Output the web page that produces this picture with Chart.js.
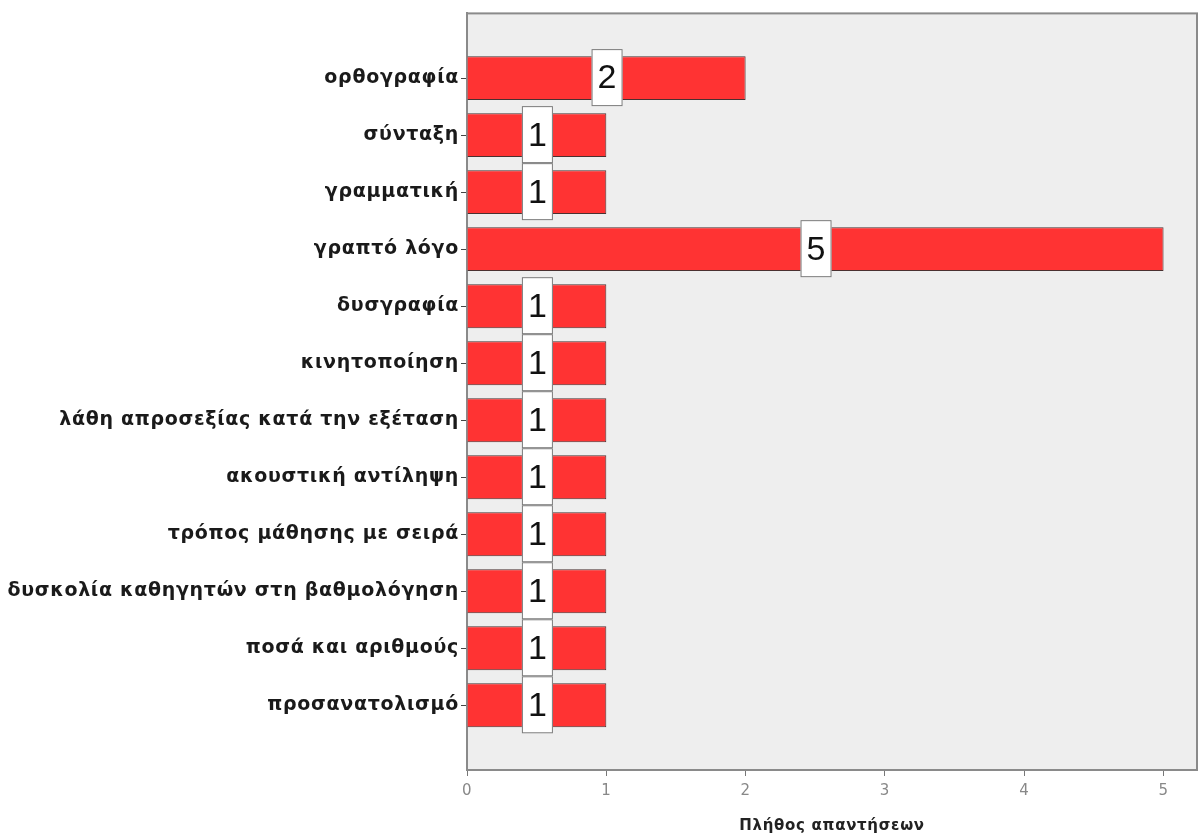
<!DOCTYPE html>
<html>
<head>
<meta charset="utf-8">
<script src="https://cdn.jsdelivr.net/npm/chart.js@4"></script>
<style>
  html, body { margin: 0; padding: 0; background: #fff; }
  #wrap { width: 1201px; height: 834px; }
</style>
</head>
<body>
<div id="wrap"><canvas id="answersChart"></canvas></div>
<script>
// categories top to bottom
let categories = [
    'ορθογραφία', 'σύνταξη', 'γραμματική', 'γραπτό λόγο', 'δυσγραφία', 'κινητοποίηση',
    'λάθη απροσεξίας κατά την εξέταση', 'ακουστική αντίληψη', 'τρόπος μάθησης με σειρά',
    'δυσκολία καθηγητών στη βαθμολόγηση', 'ποσά και αριθμούς', 'προσανατολισμό'
];
let counts = [2, 1, 1, 5, 1, 1, 1, 1, 1, 1, 1, 1];
let xTicks = [0, 1, 2, 3, 4, 5];
let xTitle = 'Πλήθος απαντήσεων';

// gray plot panel with a frame, and spaced-out lettering for the axis text
const panel = {
    id: 'panel',
    beforeDraw(chart) {
        chart.ctx.letterSpacing = '0.7px';
    },
    beforeDatasetsDraw(chart) {
        const { ctx, chartArea: a } = chart;
        ctx.save();
        ctx.fillStyle = '#eeeeee';
        ctx.fillRect(a.left, a.top, a.right - a.left, a.bottom - a.top);
        ctx.strokeStyle = '#8a8a8a';
        ctx.lineWidth = 2;
        ctx.strokeRect(a.left, a.top, a.right - a.left, a.bottom - a.top);
        ctx.restore();
    }
};

// value boxes in the middle of each bar
const valueBoxes = {
    id: 'valueBoxes',
    afterDatasetsDraw(chart) {
        const ctx = chart.ctx;
        const meta = chart.getDatasetMeta(0);
        ctx.save();
        ctx.letterSpacing = '0px';
        ctx.font = '34px "Liberation Sans", Arial, sans-serif';
        ctx.textAlign = 'center';
        ctx.textBaseline = 'middle';
        meta.data.forEach((bar, i) => {
            const cx = (bar.base + bar.x) / 2;
            const cy = bar.y;
            ctx.fillStyle = '#ffffff';
            ctx.fillRect(cx - 15, cy - 29, 31, 57);
            ctx.strokeStyle = '#7a7a7a';
            ctx.lineWidth = 1;
            ctx.strokeRect(cx - 15 + 0.5, cy - 29 + 0.5, 30, 56);
            ctx.fillStyle = '#111';
            ctx.fillText(String(counts[i]), cx + 0.5, cy + 1);
        });
        ctx.restore();
    }
};

new Chart(document.getElementById('answersChart').getContext('2d'), {
    type: 'bar',
    data: {
        datasets: [{
            data: counts.map((v, i) => ({ x: v, y: i })),
            backgroundColor: '#ff3333',
            borderColor: '#4a3030',
            borderWidth: 1,
            barPercentage: 0.77,
            categoryPercentage: 1
        }]
    },
    options: {
        indexAxis: 'y',
        responsive: true,
        maintainAspectRatio: false,
        animation: false,
        layout: { padding: { top: 10, right: 4, left: 0, bottom: 0 } },
        plugins: {
            legend: { display: false },
            tooltip: { enabled: false }
        },
        scales: {
            x: {
                type: 'linear',
                min: 0,
                max: 5.24,
                afterBuildTicks: (s) => { s.ticks = xTicks.map(v => ({ value: v })); },
                afterFit: (s) => { s.height = 64; },
                grid: { drawOnChartArea: false, drawTicks: true, tickLength: 6, color: '#777' },
                border: { display: true, color: '#8a8a8a', width: 2 },
                ticks: { color: '#888', font: { family: 'DejaVu Sans', size: 15 }, padding: 6 },
                title: {
                    display: true,
                    text: xTitle,
                    color: '#222',
                    font: { family: 'DejaVu Sans', size: 15, weight: 'bold' },
                    padding: { top: 12, bottom: -1 }
                }
            },
            y: {
                type: 'linear',
                reverse: true,
                offset: false,
                min: -1.135,
                max: 12.135,
                afterBuildTicks: (s) => { s.ticks = categories.map((c, i) => ({ value: i })); },
                afterFit: (s) => { s.width = 467; },
                grid: { offset: false, drawOnChartArea: false, drawTicks: true, tickLength: 6, color: '#444' },
                border: { display: true, color: '#8a8a8a', width: 2 },
                ticks: {
                    color: '#1a1a1a',
                    font: { family: 'DejaVu Sans', size: 19, weight: 'bold' },
                    padding: 2,
                    callback: (v) => categories[v]
                }
            }
        }
    },
    plugins: [panel, valueBoxes]
});
</script>
</body>
</html>
